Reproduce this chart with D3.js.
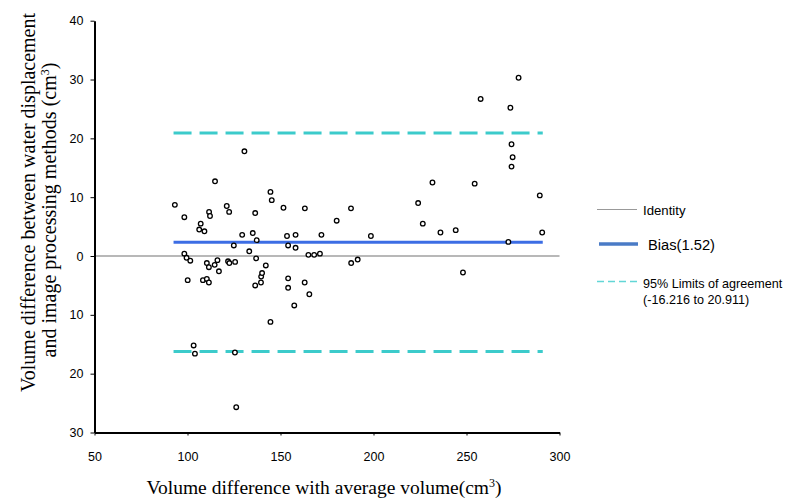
<!DOCTYPE html>
<html>
<head>
<meta charset="utf-8">
<script src="https://cdn.jsdelivr.net/npm/d3@7"></script>
<style>
  html, body { margin: 0; padding: 0; background: #fff; }
  svg { display: block; }
</style>
</head>
<body>
<svg id="chart" width="787" height="504"></svg>
<script>
// ---- data ----
const avgVolume = [
  93.2, 98.3, 98.3, 99.5, 101.5, 100.1, 103.3, 104.0, 107.1, 106.3,
  109.1, 108.3, 110.4, 111.5, 110.4, 111.5, 114.6, 116.1, 116.9, 111.6,
  112.1, 114.8, 121.1, 122.4, 121.8, 122.5, 125.6, 124.9, 125.5, 126.2,
  129.4, 130.6, 133.2, 135.1, 137.2, 136.4, 136.9, 136.4, 139.5, 139.6,
  140.1, 142.1, 144.6, 145.3, 144.6, 151.6, 153.5, 154.1, 154.1, 154.1,
  157.4, 158.1, 158.1, 163.1, 163.0, 165.5, 165.0, 168.1, 171.2, 172.0,
  180.2, 187.9, 188.0, 191.5, 198.6, 224.0, 226.5, 231.7, 236.0, 244.2,
  248.1, 254.4, 257.6, 272.5, 273.6, 274.2, 274.8, 274.2, 278.0, 289.4,
  290.7
];
const volumeDiff = [
  8.7, 6.6, 0.4, -0.3, -0.8, -4.1, -15.2, -16.6, 5.5, 4.5,
  4.2, -4.1, -3.9, -4.5, -1.2, -1.9, -1.5, -0.7, -2.6, 7.5,
  6.8, 12.7, 8.5, 7.5, -0.9, -1.2, -1.0, 1.8, -16.4, -25.7,
  3.6, 17.8, 0.8, 3.9, 2.7, 7.3, -0.4, -5.0, -4.5, -3.5,
  -2.9, -1.6, 10.9, 9.5, -11.2, 8.2, 3.4, 1.8, -3.8, -5.4,
  -8.4, 3.6, 1.4, 8.1, -4.5, -6.5, 0.2, 0.2, 0.4, 3.6,
  6.0, 8.1, -1.2, -0.6, 3.4, 9.0, 5.5, 12.5, 4.0, 4.4,
  -2.8, 12.3, 26.7, 2.4, 25.2, 19.0, 16.8, 15.2, 30.3, 10.3,
  4.0
];
const xTicks = [50, 100, 150, 200, 250, 300];
const yTicks = [40, 30, 20, 10, 0, -10, -20, -30];
const biasLevel = 2.35;          // drawn position of the bias line
const limitsOfAgreement = [-16.216, 20.911];
const lineSpan = [92.5, 291];    // x extent of bias / limit lines
const legendLabels = ["Identity", "Bias(1.52)", "95% Limits of agreement", "(-16.216 to 20.911)"];

// ---- drawing ----
const svg = d3.select("#chart");
const sans = "'Liberation Sans', Arial, sans-serif";
const serif = "'Liberation Serif', 'Times New Roman', serif";

const x = d3.scaleLinear().domain([50, 300]).range([94.5, 559.5]);
const y = d3.scaleLinear().domain([-30, 40]).range([432.5, 20.7]);

// identity line (zero)
svg.append("line")
  .attr("x1", x(50)).attr("x2", x(300))
  .attr("y1", y(0)).attr("y2", y(0))
  .attr("stroke", "#a0a0a0").attr("stroke-width", 1.5);

// bias
svg.append("line")
  .attr("x1", x(lineSpan[0])).attr("x2", x(lineSpan[1]))
  .attr("y1", y(biasLevel)).attr("y2", y(biasLevel))
  .attr("stroke", "#3c6de4").attr("stroke-width", 3);

// limits of agreement
svg.selectAll("line.loa").data(limitsOfAgreement).enter().append("line")
  .attr("class", "loa")
  .attr("x1", x(lineSpan[0])).attr("x2", x(lineSpan[1]))
  .attr("y1", d => y(d)).attr("y2", d => y(d))
  .attr("stroke", "#3ccbcb").attr("stroke-width", 3)
  .attr("stroke-dasharray", "18,8");

// axes
const yAxis = d3.axisLeft(y).tickValues(yTicks).tickSize(4).tickSizeOuter(0)
  .tickPadding(7).tickFormat(d => Math.abs(d));
const gy = svg.append("g").attr("transform", `translate(${x(50)},0)`).call(yAxis);
const xAxis = d3.axisBottom(x).tickValues(xTicks).tickSize(3).tickSizeOuter(0)
  .tickPadding(17).tickFormat(d => d);
const gx = svg.append("g").attr("transform", `translate(0,${y(-30)})`).call(xAxis);

[gx, gy].forEach(g => {
  g.select(".domain").attr("stroke", "#000").attr("stroke-width", 2);
  g.selectAll(".tick line").attr("stroke", "#000").attr("stroke-width", 1);
  g.selectAll(".tick text").attr("font-family", sans).attr("font-size", 12.5).attr("fill", "#000");
});

// points
svg.append("g").selectAll("circle")
  .data(avgVolume.map((v, i) => [v, volumeDiff[i]]))
  .enter().append("circle")
  .attr("cx", d => x(d[0])).attr("cy", d => y(d[1]))
  .attr("r", 2.3)
  .attr("fill", "#fff").attr("stroke", "#000").attr("stroke-width", 1.3);

// x title
const xt = svg.append("text")
  .attr("x", 324).attr("y", 494)
  .attr("text-anchor", "middle")
  .attr("font-family", serif).attr("font-size", 19.5).attr("fill", "#000");
xt.append("tspan").text("Volume difference with average volume(cm");
xt.append("tspan").attr("dy", -7).attr("font-size", 12).text("3");
xt.append("tspan").attr("dy", 7).text(")");

// y title (two lines)
svg.append("text")
  .attr("transform", "translate(35,202.5) rotate(-90)")
  .attr("text-anchor", "middle")
  .attr("font-family", serif).attr("font-size", 20).attr("fill", "#000")
  .text("Volume difference between water displacement");
const yt2 = svg.append("text")
  .attr("transform", "translate(56,210) rotate(-90)")
  .attr("text-anchor", "middle")
  .attr("font-family", serif).attr("font-size", 20).attr("fill", "#000");
yt2.append("tspan").text("and image processing methods (cm");
yt2.append("tspan").attr("dy", -7).attr("font-size", 12).text("3");
yt2.append("tspan").attr("dy", 7).text(")");

// legend
const lg = svg.append("g");
lg.append("line").attr("x1", 597).attr("x2", 637).attr("y1", 209.5).attr("y2", 209.5)
  .attr("stroke", "#999").attr("stroke-width", 1.2);
lg.append("text").attr("x", 643).attr("y", 215).attr("font-family", sans)
  .attr("font-size", 13.2).attr("fill", "#000").text(legendLabels[0]);

lg.append("line").attr("x1", 599).attr("x2", 638).attr("y1", 244).attr("y2", 244)
  .attr("stroke", "#4a7bc6").attr("stroke-width", 3.5);
lg.append("text").attr("x", 648).attr("y", 249.5).attr("font-family", sans)
  .attr("font-size", 14.7).attr("fill", "#000").text(legendLabels[1]);

lg.append("line").attr("x1", 597).attr("x2", 637).attr("y1", 281.5).attr("y2", 281.5)
  .attr("stroke", "#62d6d6").attr("stroke-width", 1.5).attr("stroke-dasharray", "7,4");
lg.append("text").attr("x", 643).attr("y", 287.5).attr("font-family", sans)
  .attr("font-size", 12.6).attr("fill", "#000").text(legendLabels[2]);
lg.append("text").attr("x", 643).attr("y", 304).attr("font-family", sans)
  .attr("font-size", 12.6).attr("fill", "#000").text(legendLabels[3]);
</script>
</body>
</html>
